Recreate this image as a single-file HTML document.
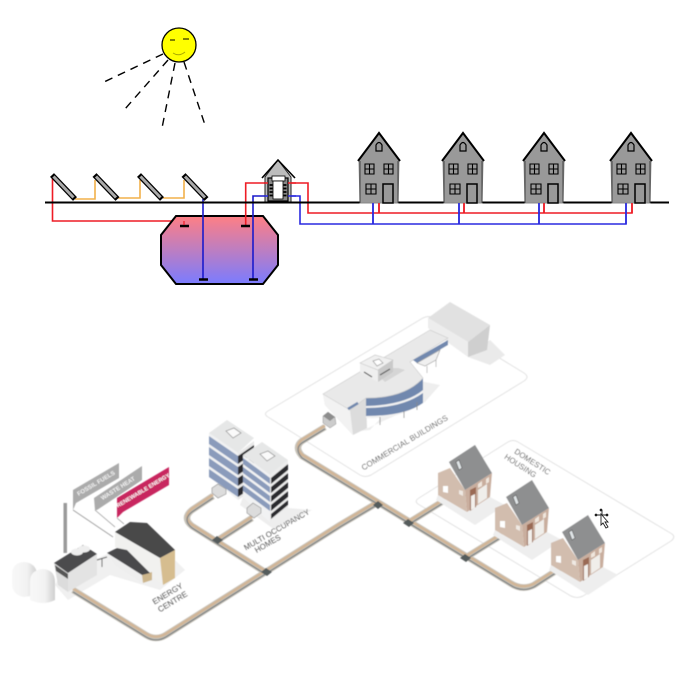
<!DOCTYPE html>
<html><head><meta charset="utf-8"><style>
html,body{margin:0;padding:0;background:#fff}
svg{display:block}
text{font-family:"Liberation Sans",sans-serif}
</style></head><body>
<svg width="690" height="676" viewBox="0 0 690 676" xmlns="http://www.w3.org/2000/svg">
<defs>
<linearGradient id="t" x1="0" y1="0" x2="0" y2="1"><stop offset="0" stop-color="#ff7f84"/><stop offset="1" stop-color="#7a7cff"/></linearGradient>
<linearGradient id="s" x1="0" y1="0" x2="1" y2="0"><stop offset="0" stop-color="#f8f8f8"/><stop offset=".6" stop-color="#f2f2f2"/><stop offset="1" stop-color="#cfcfcf"/></linearGradient>
<filter id="b" x="-5%" y="-5%" width="110%" height="110%"><feGaussianBlur stdDeviation=".4"/></filter>
<g id="h">
<path d="M-20,-43 L0,-71 L20,-43 L20,-42 L19,0 L-19,0 L-20,-42Z" fill="#999" stroke="#888" stroke-width="1"/>
<path d="M-21,-42 L0,-70 L21,-42" fill="none" stroke="#000" stroke-width="2"/>
<path d="M-19,-42V0M19,-42V0" stroke="#444" stroke-width="1"/>
<path d="M-3,-52V-58Q0,-63 3,-58V-52Z" fill="#999" stroke="#000" stroke-width="1.200"/>
<g fill="#999" stroke="#000" stroke-width="1.100">
<path d="M-14,-39h9v10h-9zM-9.500,-39v10M-14,-34h9"/>
<path d="M5,-39h9v10h-9zM9.500,-39v10M5,-34h9"/>
<path d="M-13,-19h10v10h-10zM-8,-19v10M-13,-14h10"/>
<path d="M4,-19h10V0h-10z" stroke-width="1.500"/>
</g>
</g>
<g id="p"><path d="M-11.500,-12 L11.500,12" stroke="#000" stroke-width="5.500"/><path d="M-10,-10.500 L10,10.500" stroke="#aaa" stroke-width="3"/></g>
<g id="H">
<path d="M438,495 L467,512 L490,497 L505,505 L475,525 L436,500Z" fill="#eee"/>
<path d="M438,473 L450,468 L465,490 L467,512 L438,495Z" fill="#d2bdae"/>
<path d="M465,490 L492,473 L490,497 L467,512Z" fill="#c9ae9e"/>
<path d="M470,490 L476,487 L476,507 L470,511Z" fill="#9a6a54"/>
<path d="M471,496 L475,494 L475,508 L471,510Z" fill="#f3f0ec"/>
<path d="M478,490 L487,484 L487,498 L478,504Z" fill="#f0eeea"/>
<path d="M478,484 L482,481 L482,486 L478,488ZM486,479 L489,477 L489,482 L486,484Z" fill="#efe6dd"/>
<path d="M443,486 L448,486 L448,493 L443,492Z" fill="#fff"/>
<path d="M459,490 L463,491 L463,496 L459,494Z" fill="#efe9e3"/>
<path d="M449,462 L475,445 L492,473 L465,490Z" fill="#8e8f90"/>
<path d="M456,462 L459,460 L462,468 L459,470Z" fill="#dfe4e6" stroke="#555" stroke-width=".6"/>
</g>
</defs>

<!-- sun -->
<g stroke="#000" stroke-width="1.400" stroke-dasharray="8 6" fill="none">
<path d="M163,54 L104,82"/>
<path d="M168,60 L125,109"/>
<path d="M175,63 L162,128"/>
<path d="M184,62 L205,125"/>
</g>
<circle cx="179" cy="45" r="17" fill="#ffff00" stroke="#000" stroke-width="1.300"/>
<path d="M170,40h5M183,39h6" stroke="#000" stroke-width="1"/>
<path d="M173,53Q179,57 185,52" fill="none" stroke="#a8a800" stroke-width="1"/>

<!-- top pipes -->
<path d="M75,199H95V180M118,198H140V180M163,198H184V180" fill="none" stroke="#f2b04a" stroke-width="1.600"/>
<path d="M52.500,177V221H184V225" fill="none" stroke="#ee1c25" stroke-width="1.600"/>
<path d="M289,183H308V213H632V203M379,203V213M464,203V213M544,203V213" fill="none" stroke="#ee1c25" stroke-width="1.600"/>
<path d="M289,196H300V224H626V203M373,203V224M459,203V224M539,203V224" fill="none" stroke="#2a2ae0" stroke-width="1.600"/>

<!-- tank -->
<path d="M176,216H263L278,235V265L263,284H176L161,265V235Z" fill="url(#t)" stroke="#000" stroke-width="2"/>
<path d="M203,199V279M253,279V196H268" fill="none" stroke="#1a1acc" stroke-width="1.600"/>
<path d="M245.700,226V183H268" fill="none" stroke="#ee1c25" stroke-width="1.600"/>
<path d="M180,226h9M241,226h9M199,279.500h9M249,279.500h9" stroke="#000" stroke-width="2.500"/>
<path d="M184,221V225" stroke="#ee1c25" stroke-width="1.200"/>

<!-- panels -->
<use href="#p" x="63.500" y="187"/>
<use href="#p" x="106" y="187"/>
<use href="#p" x="150.500" y="187"/>
<use href="#p" x="195" y="187"/>

<!-- small plant house -->
<path d="M265,202V177L278,160L291,177V202Z" fill="#bdbdbd" stroke="#222" stroke-width="1"/>
<path d="M262,178L278,160L295,178" fill="none" stroke="#000" stroke-width="1.600"/>
<rect x="268" y="178" width="20" height="23" fill="#888" stroke="#000" stroke-width="1.200"/>
<rect x="272" y="176" width="13" height="5" fill="#fff" stroke="#000" stroke-width=".8"/>
<rect x="273" y="181" width="10" height="18" fill="#fff" stroke="#000" stroke-width=".8"/>
<path d="M268,183H264M288,183H296" stroke="#ee1c25" stroke-width="1.600"/>
<path d="M268,196H264M288,196H296" stroke="#2a2ae0" stroke-width="1.600"/>
<path d="M269.500,185h3M269.500,188.500h3M269.500,192h3M269.500,195.500h3M283.500,185h3M283.500,188.500h3M283.500,192h3M283.500,195.500h3" stroke="#000" stroke-width="1.800"/>

<!-- ground -->
<path d="M45,202.500H669" stroke="#000" stroke-width="2"/>
<!-- houses -->
<use href="#h" x="379" y="203"/>
<use href="#h" x="463" y="203"/>
<use href="#h" x="544" y="203"/>
<use href="#h" x="631" y="203"/>
<path d="M373,203V224M459,203V224M539,203V224M626,203V224" stroke="#2a2ae0" stroke-width="1.600"/>
<path d="M379,203V213M464,203V213M544,203V213M632,203V213" stroke="#ee1c25" stroke-width="1.600"/>

<!-- isometric illustration -->
<g filter="url(#b)">
<!-- plates -->
<path d="M268,417Q263,414 268,411L423,318Q429,315 434,318L524,373Q530,377 524,381L371,475Q365,478 360,475Z" fill="#fff" stroke="#e2e2e2" stroke-width="1"/>
<path d="M418,504Q414,501 419,498L508,442Q513,439 518,442L672,534Q676,537 671,541L583,596Q577,599 571,596Z" fill="#fff" stroke="#e2e2e2" stroke-width="1"/>

<!-- energy shadow -->
<path d="M55,585L68,600L110,575L160,590L185,570L150,535L60,575Z" fill="#f0f0f0"/>

<!-- pipes -->
<g fill="none" stroke-linejoin="round">
<g stroke="#c7c2b8" stroke-width="6.500">
<path d="M73,590L146,635Q156,641 166,635L340,525L377,503"/>
<path d="M325,427L302,441Q294,447 302,456L510,583Q522,591 534,585L562,567"/>
<path d="M213,496L192,510Q182,518 192,526L265,572"/>
<path d="M218,540L252,518"/>
<path d="M408,523L445,500"/>
<path d="M465,558L502,535"/>
</g>
<g stroke="#d2b596" stroke-width="2.400" transform="translate(0,-1.300)">
<path d="M73,590L146,635Q156,641 166,635L340,525L377,503"/>
<path d="M325,427L302,441Q294,447 302,456L510,583Q522,591 534,585L562,567"/>
<path d="M213,496L192,510Q182,518 192,526L265,572"/>
<path d="M218,540L252,518"/>
<path d="M408,523L445,500"/>
<path d="M465,558L502,535"/>
</g>
<g stroke="#808485" stroke-width="1.300" transform="translate(0,1.900)">
<path d="M73,590L146,635Q156,641 166,635L340,525L377,503"/>
<path d="M325,427L302,441Q294,447 302,456L510,583Q522,591 534,585L562,567"/>
<path d="M213,496L192,510Q182,518 192,526L265,572"/>
<path d="M218,540L252,518"/>
<path d="M408,523L445,500"/>
<path d="M465,558L502,535"/>
</g>
</g>
<g fill="#555b5c">
<path d="M261,572L266,568L272,572L267,576Z"/>
<path d="M212,540L217,536L223,540L218,544Z"/>
<path d="M373,505L378,501L383,505L378,509Z"/>
<path d="M403,523L408,519L414,523L409,527Z"/>
<path d="M460,558L465,554L471,558L466,562Z"/>
</g>

<!-- energy centre -->
<path d="M12,583V574Q12,563 24,562Q36,563 37,574V595L24,597Q12,595 12,583Z" fill="url(#s)"/>
<path d="M30,582Q30,570 43,569Q55,570 55,582V600Q43,606 30,600Z" fill="url(#s)"/>
<rect x="63.500" y="503" width="3.500" height="50" fill="#9a9a9a"/>
<path d="M54,563L68,573V592L58,585Z" fill="#dcdcdc"/>
<path d="M55,565L68,574V579L56,571Z" fill="#555"/>
<path d="M68,573L97,554V575L68,592Z" fill="#e3e3e3"/>
<path d="M54,563L83,545L97,554L68,573Z" fill="#4b4b4d"/>
<ellipse cx="77" cy="552" rx="6" ry="3.500" fill="#eee"/>
<ellipse cx="84" cy="549" rx="6" ry="3.500" fill="#eee"/>
<path d="M97,560L107,557M102,558V567" stroke="#555" stroke-width="1"/>
<path d="M115,532L160,558L162,585L115,547Z" fill="#f1f1ef"/>
<path d="M160,558L175,550V578L163,585Z" fill="#d6bd8f"/>
<path d="M115,532L130,522L147,523L175,550L160,558Z" fill="#48484a"/>
<path d="M110,557L142,575L143,583L115,565Z" fill="#eeeeee"/>
<path d="M142,575L152,572V580L143,583Z" fill="#cdb68c"/>
<path d="M107,553L117,548L127,550L150,573L142,575Z" fill="#4a4a4c"/>

<!-- ribbons -->
<path d="M73,510L113,537M95,510L115,527M117,518L124,524" stroke="#9a9a9a" stroke-width=".8" fill="none"/>
<path d="M73,490L119,463V478L76,503L73,510Z" fill="#ababab"/>
<path d="M94,498L142,466V480L97,510L95,510Z" fill="#ababab"/>
<path d="M117,498L169,467V485L123,512L117,518Z" fill="#c8285f"/>
<text transform="translate(97,485) rotate(-31)" text-anchor="middle" font-size="6" fill="#f2f2f2" font-weight="bold">FOSSIL FUELS</text>
<text transform="translate(119,490) rotate(-32)" text-anchor="middle" font-size="6" fill="#f2f2f2" font-weight="bold">WASTE HEAT</text>
<text transform="translate(144,492) rotate(-31)" text-anchor="middle" font-size="5.600" fill="#fff" font-weight="bold">RENEWABLE ENERGY</text>

<!-- flats -->
<path d="M243,497L270,522L288,508L312,510L275,530L240,505Z" fill="#eee"/>
<path d="M209,433L238,453V500L209,477Z" fill="#f1f2f3"/>
<path d="M238,453L254,441V490L238,500Z" fill="#e8e8e8"/>
<g fill="#8a9bbb">
<path d="M209,436L238,456V464L209,444Z"/>
<path d="M209,447L238,467V475L209,455Z"/>
<path d="M209,458L238,478V486L209,466Z"/>
<path d="M209,469L238,489V497L209,477Z"/>
</g>
<g fill="#2c2c2e">
<path d="M238,456L254,445V453L238,464Z"/>
<path d="M238,467L254,456V464L238,475Z"/>
<path d="M238,478L244,474V482L238,486Z"/>
<path d="M238,489L244,485V493L238,497Z"/>
</g>
<path d="M209,433L227,420L254,438L238,453Z" fill="#e6e7e7"/>
<path d="M226,431L234,428L241,433L233,438Z" fill="#fafafa" stroke="#9a9a9a" stroke-width=".8"/>
<path d="M243,455L270,475V522L243,497Z" fill="#f1f2f3"/>
<path d="M270,475L288,460V508L270,522Z" fill="#ececec"/>
<g fill="#8a9bbb">
<path d="M243,458L270,478V484L243,464Z"/>
<path d="M243,467L270,487V493L243,473Z"/>
<path d="M243,476L270,496V502L243,482Z"/>
<path d="M243,485L270,505V511L243,491Z"/>
</g>
<g fill="#2c2c2e">
<path d="M271,478L288,464V470L271,484Z"/>
<path d="M271,487L288,473V479L271,493Z"/>
<path d="M271,496L288,482V488L271,502Z"/>
<path d="M271,505L288,491V497L271,511Z"/>
<path d="M271,514L288,500V505L271,519Z"/>
</g>
<path d="M243,455L262,442L288,460L270,475Z" fill="#e6e7e7"/>
<path d="M260,454L268,451L275,456L267,461Z" fill="#fafafa" stroke="#9a9a9a" stroke-width=".8"/>
<path d="M212,488L218,484L226,489V494L218,498L212,493Z" fill="#dcdcdc" stroke="#888" stroke-width=".6"/>
<path d="M247,508L253,503L261,508V513L254,518L247,513Z" fill="#dcdcdc" stroke="#888" stroke-width=".6"/>

<!-- commercial -->
<path d="M350,432L368,428L425,402L440,385L415,380L370,430Z" fill="#eee"/>
<path d="M468,357L490,340L505,355L490,365Z" fill="#eaeaea"/>
<path d="M428,318L450,302L490,325L468,342Z" fill="#e1e1e1"/>
<path d="M428,318V328L468,357V342Z" fill="#ededed"/>
<path d="M468,342L490,325L487,350L468,357Z" fill="#cfcfcf"/>
<path d="M323,394L325,405L353,435L367,428L366,398Z" fill="#dcdcdc"/>
<path d="M323,394L325,405L353,435L350,410Z" fill="#f2f2f2"/>
<path d="M366,398Q405,400 423,378V402Q400,420 366,418Z" fill="#f1f1f1"/>
<path d="M366,397V406Q405,405 423,390V378Q402,398 366,397Z" fill="#7188ae"/>
<path d="M366,408V416Q405,416 423,403V393Q402,408 366,408Z" fill="#7188ae"/>
<path d="M323,394L430,330L448,338L410,362L423,378Q405,398 366,398L350,410Z" fill="#e9e9e9" stroke="#cfcfcf" stroke-width=".7"/>
<path d="M413,360L448,340V345L417,363Z" fill="#7188ae"/>
<path d="M417,363L440,350L436,360L425,366ZM427,366V373M436,360V367" fill="#f0f0f0" stroke="#999" stroke-width=".6"/>
<path d="M380,368L398,368L405,370L385,382L378,375Z" fill="#d5d5d5"/>
<path d="M360,363V372L378,382V370Z" fill="#efefef"/>
<path d="M378,370V382L393,372V360Z" fill="#c9c9c9"/>
<path d="M360,363L375,355L393,360L378,370Z" fill="#f0f0f0" stroke="#c4c4c4" stroke-width=".6"/>
<path d="M373,361L379,359L383,363L377,366Z" fill="#fff" stroke="#999" stroke-width=".7"/>
<path d="M364,372L372,377M380,375L390,369" stroke="#555" stroke-width="1.200"/>
<path d="M348,409L358,403" stroke="#7188ae" stroke-width="2.500"/>
<path d="M380,417V425M404,411V418M417,402V410" stroke="#888" stroke-width=".8"/>
<path d="M323,416L328,412L335,417L336,424L330,428L323,423Z" fill="#ccc" stroke="#888" stroke-width=".5"/>
<path d="M323,416L328,412L335,417L330,421Z" fill="#8d8d8d"/>

<!-- houses -->
<use href="#H"/>
<use href="#H" x="57" y="35"/>
<use href="#H" x="113" y="70"/>

<!-- labels -->
<g fill="#555" font-size="8" text-anchor="middle">
<text transform="translate(169,596) rotate(-31)">ENERGY</text>
<text transform="translate(174,604) rotate(-31)">CENTRE</text>
<text transform="translate(278,532) rotate(-30)" font-size="7.800">MULTI OCCUPANCY</text>
<text transform="translate(269,546) rotate(-30)" font-size="7.800">HOMES</text>
<text transform="translate(406,445) rotate(-31)" font-size="8">COMMERCIAL BUILDINGS</text>
<text transform="translate(531,464) rotate(33)" font-size="7.800">DOMESTIC</text>
<text transform="translate(519,468) rotate(33)" font-size="7.800">HOUSING</text>
</g>
</g>

<!-- cursor -->
<g stroke="#222" stroke-width=".9" fill="#fff">
<path d="M602,510V522M596,515H608" fill="none"/>
<circle cx="601" cy="510" r=".9" fill="#111"/><circle cx="596" cy="515" r=".9" fill="#111"/><circle cx="607" cy="515" r=".9" fill="#111"/>
<path d="M601,514L608,522L605,522L608,527L606,528L603,523L601,525Z"/>
</g>
</svg>
</body></html>
